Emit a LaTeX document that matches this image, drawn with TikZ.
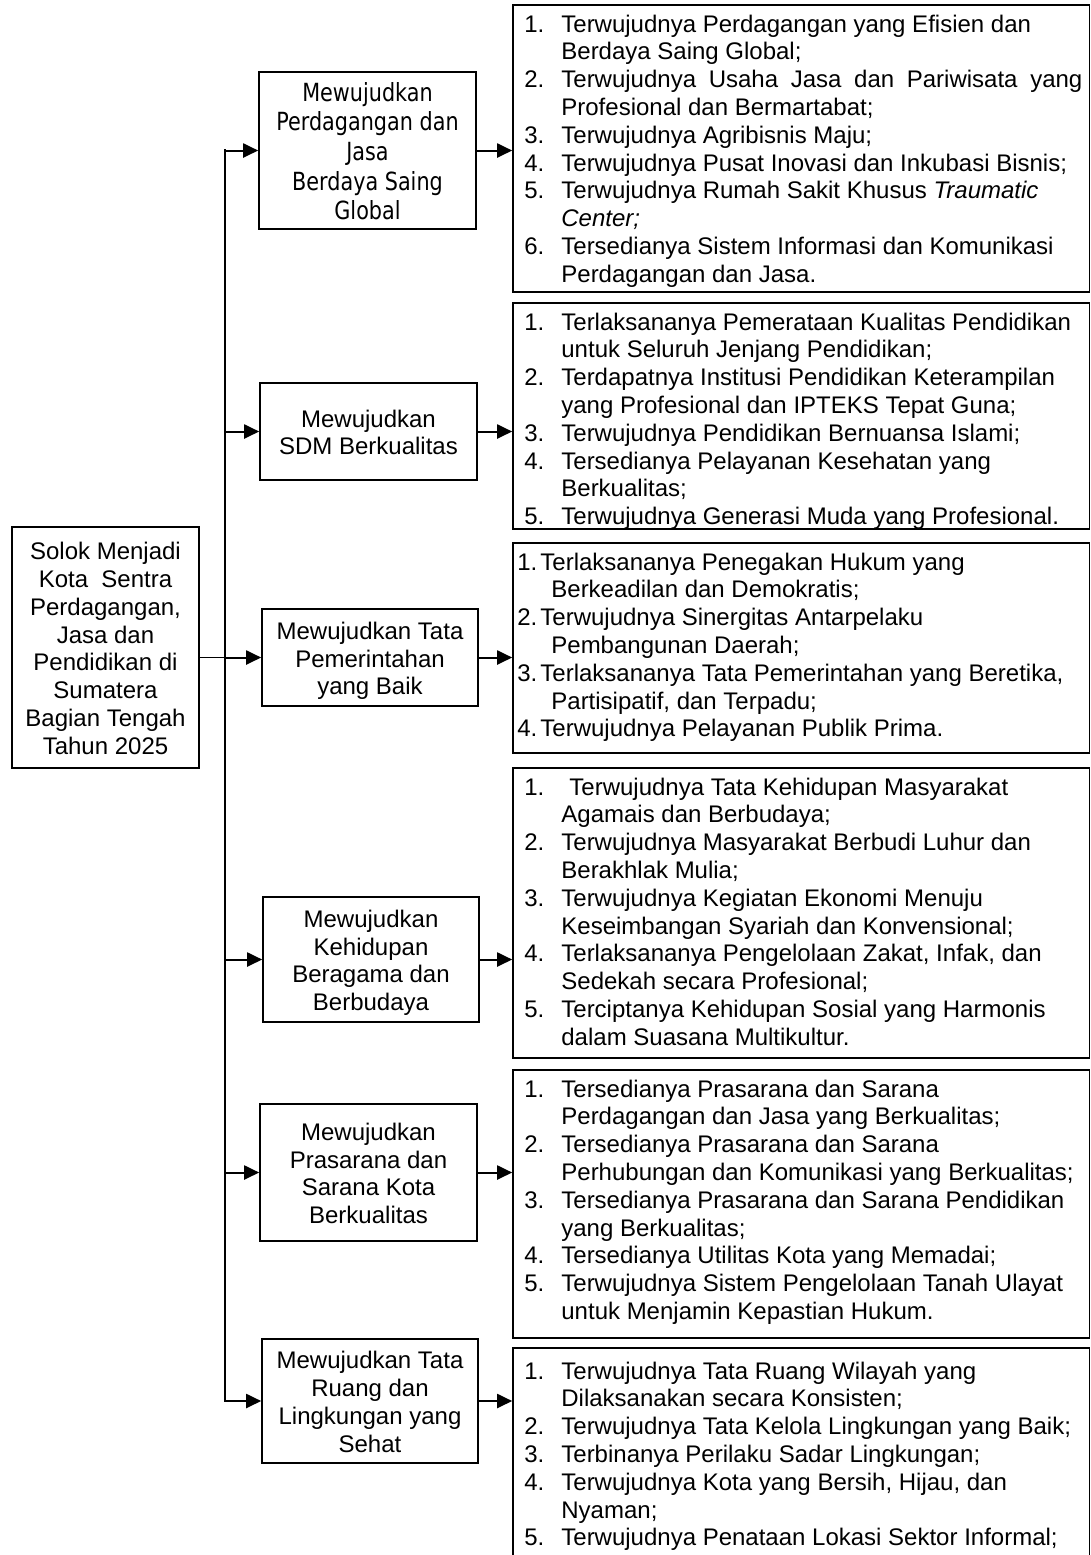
\documentclass[tikz,border=0pt]{standalone}
\usepackage{fontspec}
\setmainfont{Liberation Sans}
\newfontfamily\tahomalike{DejaVu Sans}[FakeStretch=0.83]
\usetikzlibrary{arrows.meta,fit}
\newcommand\lstnum[2][18.5pt]{\makebox[#1][l]{#2}}
\newcommand\lstcont[1][18.5pt]{\hspace*{#1}}
\newcommand\ctab[1]{\raisebox{0pt}[\dimexpr\height+4pt\relax][\depth]{\begin{tabular}{@{}c@{}}#1\end{tabular}}}
\begin{document}
\begin{tikzpicture}[x=0.5pt,y=-0.5pt,
  box/.style={draw, line width=0.8pt, inner sep=0pt, anchor=center, font=\fontsize{12}{13.9}\selectfont},
  tbox/.style={box, font=\tahomalike\fontsize{12.5}{14.8}\selectfont},
  rbox/.style={draw, line width=0.8pt, inner sep=0pt},
  list/.style={anchor=base west, inner sep=0pt, font=\fontsize{12}{13.9}\selectfont},
  arr/.style={line width=1pt, -{Triangle[length=7.5pt,width=7pt]}},
  busline/.style={line width=1.3pt, line cap=rect},
  thinline/.style={line width=0.6pt}
]
\useasboundingbox (0,0) rectangle (1091,1555);
\begin{scope}
\clip (0,0) rectangle (1091,1555);

% left box
\node[box, minimum width=93.5pt, minimum height=120.5pt] (L) at (105.5,647.5) {\ctab{Solok Menjadi\\Kota~~Sentra\\Perdagangan,\\Jasa dan\\Pendidikan di\\Sumatera\\Bagian Tengah\\Tahun 2025}};

% middle boxes
\node[tbox, minimum width=108.5pt, minimum height=78.5pt] (m1) at (367.5,150.5) {\ctab{Mewujudkan\\Perdagangan dan\\Jasa\\Berdaya Saing\\Global}};
\node[box, minimum width=108.5pt, minimum height=48.5pt] (m2) at (368.5,431.5) {\ctab{Mewujudkan\\SDM Berkualitas}};
\node[box, minimum width=108pt, minimum height=48.5pt] (m3) at (370,657.5) {\ctab{Mewujudkan Tata\\Pemerintahan\\yang Baik}};
\node[box, minimum width=108pt, minimum height=62.5pt] (m4) at (371,959.5) {\ctab{Mewujudkan\\Kehidupan\\Beragama dan\\Berbudaya}};
\node[box, minimum width=108.5pt, minimum height=68.5pt] (m5) at (368.5,1172.5) {\ctab{Mewujudkan\\Prasarana dan\\Sarana Kota\\Berkualitas}};
\node[box, minimum width=108pt, minimum height=62pt] (m6) at (370,1401) {\ctab{Mewujudkan Tata\\Ruang dan\\Lingkungan yang\\Sehat}};

% right boxes
\node[rbox, fit={(513,5) (1089.5,292)}] (r1) {};
\node[rbox, fit={(513,303) (1089.5,529)}] (r2) {};
\node[rbox, fit={(513,543) (1089.5,753)}] (r3) {};
\node[rbox, fit={(513,768) (1089.5,1058)}] (r4) {};
\node[rbox, fit={(513,1070) (1089.5,1338)}] (r5) {};
\node[rbox, fit={(513,1348) (1089.5,1620)}] (r6) {};

% list texts
\node[list] (t1) at (524,32) {\begin{tabular}[t]{@{}l@{}}
\lstnum{1.}Terwujudnya Perdagangan yang Efisien dan\\
\lstcont Berdaya Saing Global;\\
\lstnum{2.}\makebox[260.5pt][s]{Terwujudnya Usaha Jasa dan Pariwisata yang}\\
\lstcont Profesional dan Bermartabat;\\
\lstnum{3.}Terwujudnya Agribisnis Maju;\\
\lstnum{4.}Terwujudnya Pusat Inovasi dan Inkubasi Bisnis;\\
\lstnum{5.}Terwujudnya Rumah Sakit Khusus \textit{Traumatic}\\
\lstcont\textit{Center;}\\
\lstnum{6.}Tersedianya Sistem Informasi dan Komunikasi\\
\lstcont Perdagangan dan Jasa.
\end{tabular}};

\node[list] (t2) at (524,330) {\begin{tabular}[t]{@{}l@{}}
\lstnum{1.}Terlaksananya Pemerataan Kualitas Pendidikan\\
\lstcont untuk Seluruh Jenjang Pendidikan;\\
\lstnum{2.}Terdapatnya Institusi Pendidikan Keterampilan\\
\lstcont yang Profesional dan IPTEKS Tepat Guna;\\
\lstnum{3.}Terwujudnya Pendidikan Bernuansa Islami;\\
\lstnum{4.}Tersedianya Pelayanan Kesehatan yang\\
\lstcont Berkualitas;\\
\lstnum{5.}Terwujudnya Generasi Muda yang Profesional.
\end{tabular}};

\node[list] (t3) at (517,570) {\begin{tabular}[t]{@{}l@{}}
\lstnum[11.5pt]{1.}Terlaksananya Penegakan Hukum yang\\
\lstcont[17pt]Berkeadilan dan Demokratis;\\
\lstnum[11.5pt]{2.}Terwujudnya Sinergitas Antarpelaku\\
\lstcont[17pt]Pembangunan Daerah;\\
\lstnum[11.5pt]{3.}Terlaksananya Tata Pemerintahan yang Beretika,\\
\lstcont[17pt]Partisipatif, dan Terpadu;\\
\lstnum[11.5pt]{4.}Terwujudnya Pelayanan Publik Prima.
\end{tabular}};

\node[list] (t4) at (524,795) {\begin{tabular}[t]{@{}l@{}}
\lstnum[22.5pt]{1.}Terwujudnya Tata Kehidupan Masyarakat\\
\lstcont Agamais dan Berbudaya;\\
\lstnum{2.}Terwujudnya Masyarakat Berbudi Luhur dan\\
\lstcont Berakhlak Mulia;\\
\lstnum{3.}Terwujudnya Kegiatan Ekonomi Menuju\\
\lstcont Keseimbangan Syariah dan Konvensional;\\
\lstnum{4.}Terlaksananya Pengelolaan Zakat, Infak, dan\\
\lstcont Sedekah secara Profesional;\\
\lstnum{5.}Terciptanya Kehidupan Sosial yang Harmonis\\
\lstcont dalam Suasana Multikultur.
\end{tabular}};

\node[list] (t5) at (524,1097) {\begin{tabular}[t]{@{}l@{}}
\lstnum{1.}Tersedianya Prasarana dan Sarana\\
\lstcont Perdagangan dan Jasa yang Berkualitas;\\
\lstnum{2.}Tersedianya Prasarana dan Sarana\\
\lstcont Perhubungan dan Komunikasi yang Berkualitas;\\
\lstnum{3.}Tersedianya Prasarana dan Sarana Pendidikan\\
\lstcont yang Berkualitas;\\
\lstnum{4.}Tersedianya Utilitas Kota yang Memadai;\\
\lstnum{5.}Terwujudnya Sistem Pengelolaan Tanah Ulayat\\
\lstcont untuk Menjamin Kepastian Hukum.
\end{tabular}};

\node[list] (t6) at (524,1379) {\begin{tabular}[t]{@{}l@{}}
\lstnum{1.}Terwujudnya Tata Ruang Wilayah yang\\
\lstcont Dilaksanakan secara Konsisten;\\
\lstnum{2.}Terwujudnya Tata Kelola Lingkungan yang Baik;\\
\lstnum{3.}Terbinanya Perilaku Sadar Lingkungan;\\
\lstnum{4.}Terwujudnya Kota yang Bersih, Hijau, dan\\
\lstcont Nyaman;\\
\lstnum{5.}Terwujudnya Penataan Lokasi Sektor Informal;
\end{tabular}};

% bus
\coordinate (bus) at (225,0);
\draw[busline] (bus |- m1.west) -- (bus |- m6.west);
\draw[thinline] (L.east |- m3.west) -- (bus |- m3.west);

% arrows from bus to middle boxes
\foreach \m in {m1,m2,m3,m4,m5,m6}
  \draw[arr] (bus |- \m.west) -- (\m.west);

% arrows from middle boxes to right boxes
\draw[arr] (m1.east) -- (r1.west |- m1.east);
\draw[arr] (m2.east) -- (r2.west |- m2.east);
\draw[arr] (m3.east) -- (r3.west |- m3.east);
\draw[arr] (m4.east) -- (r4.west |- m4.east);
\draw[arr] (m5.east) -- (r5.west |- m5.east);
\draw[arr] (m6.east) -- (r6.west |- m6.east);
\end{scope}
\end{tikzpicture}
\end{document}
